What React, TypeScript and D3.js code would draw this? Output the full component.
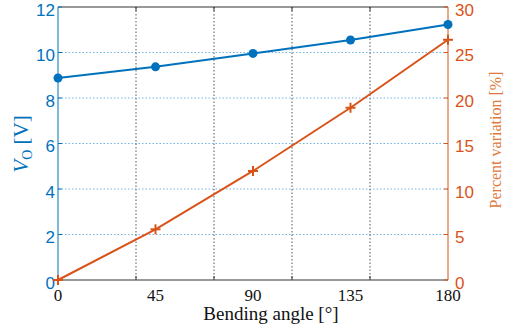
import React from "react";
import * as d3 from "d3";

// Bending angle sweep and measured responses
const angles = [0, 45, 90, 135, 180];
const outputVoltage = [8.88, 9.37, 9.96, 10.55, 11.23];
const percentVariation = [0, 5.57, 11.98, 18.93, 26.4];

const xTickLabels = ["0", "45", "90", "135", "180"];
const xGridValues = [36, 72, 108, 144];
const leftTicks = [0, 2, 4, 6, 8, 10, 12];
const rightTicks = [0, 5, 10, 15, 20, 25, 30];

const BLUE = "#0072BD";
const ORANGE = "#D95319";

const SANS = "Liberation Sans, Arial, sans-serif";
const SERIF = "Liberation Serif, Times New Roman, DejaVu Serif, serif";

export default function App() {
  const W = 511;
  const H = 333;
  const m = { left: 58, right: 448, top: 7, bottom: 280 };

  const x = d3.scaleLinear().domain([0, 180]).range([m.left, m.right]);
  const yL = d3.scaleLinear().domain([0, 12]).range([m.bottom, m.top]);
  const yR = d3.scaleLinear().domain([0, 30]).range([m.bottom, m.top]);

  const lineL = d3
    .line<number>()
    .x((_, i) => x(angles[i]))
    .y((d) => yL(d));
  const lineR = d3
    .line<number>()
    .x((_, i) => x(angles[i]))
    .y((d) => yR(d));

  return (
    <svg
      width={W}
      height={H}
      style={{ position: "absolute", left: 0, top: 0, background: "#fff" }}
    >
      {/* horizontal grid */}
      {leftTicks
        .filter((t) => t > 0 && t < 12)
        .map((t) => (
          <line
            key={"hg" + t}
            x1={m.left}
            x2={m.right}
            y1={yL(t)}
            y2={yL(t)}
            stroke="#74b4e4"
            strokeWidth={1}
            strokeDasharray="1.5 2"
          />
        ))}
      {/* vertical grid */}
      {xGridValues.map((v) => (
        <line
          key={"vg" + v}
          x1={x(v)}
          x2={x(v)}
          y1={m.top}
          y2={m.bottom}
          stroke="#555"
          strokeWidth={1}
          strokeDasharray="1.5 2"
        />
      ))}
      {/* top and bottom frame with ticks */}
      <line x1={m.left} x2={m.right} y1={m.top} y2={m.top} stroke="#333" strokeWidth={1} />
      <line x1={m.left} x2={m.right} y1={m.bottom} y2={m.bottom} stroke="#333" strokeWidth={1} />
      {xGridValues.map((v) => (
        <g key={"xt" + v}>
          <line x1={x(v)} x2={x(v)} y1={m.top} y2={m.top + 4} stroke="#333" />
          <line x1={x(v)} x2={x(v)} y1={m.bottom} y2={m.bottom - 4} stroke="#333" />
        </g>
      ))}
      {/* left axis */}
      <line x1={m.left} x2={m.left} y1={m.top} y2={m.bottom} stroke={BLUE} strokeWidth={1} />
      {leftTicks.map((t) => (
        <g key={"lt" + t}>
          <line x1={m.left} x2={m.left + 4} y1={yL(t)} y2={yL(t)} stroke={BLUE} />
          <text
            x={m.left - 3}
            y={yL(t) + 3}
            textAnchor="end"
            dominantBaseline="central"
            style={{ fontFamily: SANS, fontSize: 17 }}
            fill={BLUE}
          >
            {t}
          </text>
        </g>
      ))}
      {/* right axis */}
      <line x1={m.right} x2={m.right} y1={m.top} y2={m.bottom} stroke={ORANGE} strokeWidth={1} />
      {rightTicks.map((t) => (
        <g key={"rt" + t}>
          <line x1={m.right} x2={m.right - 4} y1={yR(t)} y2={yR(t)} stroke={ORANGE} />
          <text
            x={m.right + 7}
            y={yR(t) + 3}
            textAnchor="start"
            dominantBaseline="central"
            style={{ fontFamily: SANS, fontSize: 17 }}
            fill={ORANGE}
          >
            {t}
          </text>
        </g>
      ))}
      {/* x tick labels */}
      {angles.map((a, i) => (
        <text
          key={"xl" + a}
          x={x(a)}
          y={301}
          textAnchor="middle"
          style={{ fontFamily: SERIF, fontSize: 17 }}
          fill="#111"
        >
          {xTickLabels[i]}
        </text>
      ))}
      <text
        x={271}
        y={320}
        textAnchor="middle"
        style={{ fontFamily: SERIF, fontSize: 19 }}
        fill="#111"
      >
        Bending angle [°]
      </text>
      {/* left axis title */}
      <text
        transform="translate(28,144) rotate(-90)"
        textAnchor="middle"
        style={{ fontFamily: SERIF, fontSize: 21 }}
        fill={BLUE}
      >
        <tspan fontStyle="italic">V</tspan>
        <tspan fontSize={14} dy={4}>O</tspan>
        <tspan dy={-4}> [V]</tspan>
      </text>
      {/* right axis title */}
      <text
        transform="translate(501,140) rotate(-90)"
        textAnchor="middle"
        style={{ fontFamily: SERIF, fontSize: 16 }}
        fill="#E07A3C"
      >
        Percent variation [%]
      </text>
      {/* series */}
      <path d={lineL(outputVoltage) || ""} fill="none" stroke={BLUE} strokeWidth={2} />
      {outputVoltage.map((v, i) => (
        <circle key={"c" + i} cx={x(angles[i])} cy={yL(v)} r={4.5} fill={BLUE} />
      ))}
      <path d={lineR(percentVariation) || ""} fill="none" stroke={ORANGE} strokeWidth={2} />
      {percentVariation.map((v, i) => {
        const cx = x(angles[i]);
        const cy = yR(v);
        return (
          <g key={"p" + i} stroke={ORANGE} strokeWidth={2}>
            <line x1={cx - 5} x2={cx + 5} y1={cy} y2={cy} />
            <line x1={cx} x2={cx} y1={cy - 5} y2={cy + 5} />
          </g>
        );
      })}
    </svg>
  );
}
